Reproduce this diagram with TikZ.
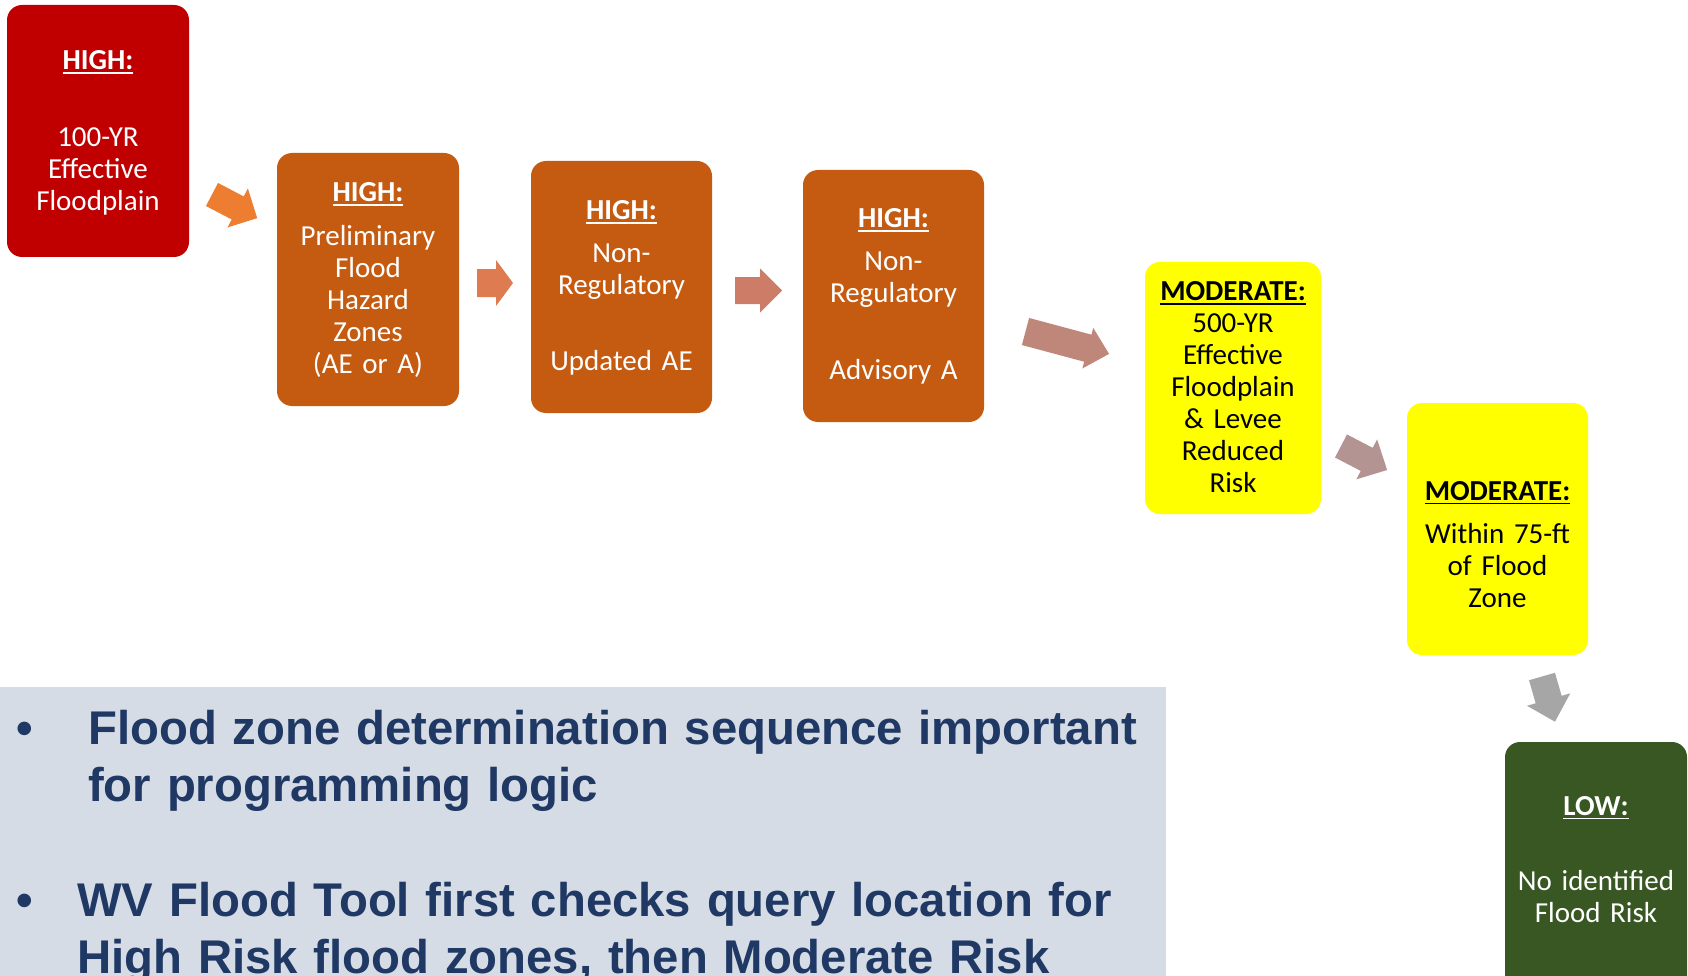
\documentclass[tikz,border=0pt]{standalone}
\usepackage{fontspec}
\setmainfont{Carlito}
\newfontfamily\panelfont{Liberation Sans}
\definecolor{redbox}{HTML}{C00000}
\definecolor{orangebox}{HTML}{C55A11}
\definecolor{yellowbox}{HTML}{FFFF00}
\definecolor{greenbox}{HTML}{385723}
\definecolor{panelbg}{HTML}{D6DCE5}
\definecolor{navy}{HTML}{1F3864}
\definecolor{arA}{HTML}{ED7D31}
\definecolor{arB}{HTML}{DF7B51}
\definecolor{arC}{HTML}{CD7C67}
\definecolor{arD}{HTML}{BF877A}
\definecolor{arE}{HTML}{B39493}
\definecolor{arF}{HTML}{A6A6A6}
\newcommand\hd[1]{\setbox0\hbox{\textbf{#1}}\rlap{\rule[-4.4pt]{\wd0}{1.9pt}}\box0}
% color, tail x, tail y, angle, length, shaft, head width, head length
\newcommand\blockarrow[8]{%
  \fill[#1, shift={(#2,#3)}, rotate=#4] (0,-#6/2) -- ({#5-#8},-#6/2) -- ({#5-#8},-#7/2)
    -- (#5,0) -- ({#5-#8},#7/2) -- ({#5-#8},#6/2) -- (0,#6/2) -- cycle;}
\begin{document}
\begin{tikzpicture}[x=1pt,y=-1pt,
  box/.style={draw=none, inner sep=0pt, rounded corners=15pt, minimum height=252pt},
  txt/.style={text width=210pt, align=center, inner sep=0pt, anchor=base, text=white,
    font=\fontsize{29}{32}\selectfont},
  ptxt/.style={text width=1120pt, align=left, inner sep=0pt, anchor=base west, text=navy,
    font=\panelfont\bfseries\fontsize{47.3}{57}\selectfont},
  bul/.style={inner sep=0pt, anchor=base, text=navy, font=\panelfont\bfseries\fontsize{47.3}{57}\selectfont}]
\useasboundingbox (0,0) rectangle (1688,976);
\clip (0,0) rectangle (1688,976);
\fill[white] (0,0) rectangle (1688,976);

% boxes
\node[box, fill=redbox, minimum width=182pt] (r1) at (98,131) {};
\node[box, fill=orangebox, minimum width=182pt, minimum height=253pt] (r2) at (368,279.5) {};
\node[box, fill=orangebox, minimum width=181pt] (r3) at (621.5,287) {};
\node[box, fill=orangebox, minimum width=181pt] (r4) at (893.5,296) {};
\node[box, fill=yellowbox, minimum width=176pt] (r5) at (1233,388) {};
\node[box, fill=yellowbox, minimum width=181pt] (r6) at (1497.5,529) {};
\node[box, fill=greenbox, minimum width=182pt] (r7) at (1596,868) {};

% texts
\node[txt] (t1) at (98,70) {\hd{HIGH:}\\[45pt]100-YR\\Effective\\Floodplain};
\node[txt] (t2) at (368,202) {\hd{HIGH:}\\[12pt]Preliminary\\Flood\\Hazard\\Zones\\(AE or A)};
\node[txt] (t3) at (621.5,220) {\hd{HIGH:}\\[10.7pt]Non-\\Regulatory\\[44.3pt]Updated AE};
\node[txt] (t4) at (893.5,228) {\hd{HIGH:}\\[10.7pt]Non-\\Regulatory\\[45.3pt]Advisory A};
\node[txt, text=black] (t5) at (1233,300.5) {\hd{MODERATE:}\\500-YR\\Effective\\Floodplain\\\& Levee\\Reduced\\Risk};
\node[txt, text=black] (t6) at (1497.5,500) {\hd{MODERATE:}\\[11.3pt]Within 75-ft\\of Flood\\Zone};
\node[txt] (t7) at (1596,815) {\hd{LOW:}\\[43.7pt]No identified\\Flood Risk};

% block arrows
\blockarrow{arA}{212}{194.5}{-27.6}{51}{26}{44}{22}
\blockarrow{arB}{477}{283}{0}{36}{28}{46}{17}
\blockarrow{arC}{735}{290.5}{0}{47}{27}{44}{22}
\blockarrow{arD}{1025.5}{331.5}{-15}{86.5}{28}{42}{22}
\blockarrow{arE}{1341}{446}{-27.5}{52}{26}{45}{23}
\blockarrow{arF}{1542}{676.5}{-74}{47}{27}{45}{23}

% bottom panel
\node[fill=panelbg, inner sep=0pt, minimum width=1166pt, minimum height=300pt, anchor=north west] (panel) at (0,687) {};
\node[bul] (d1) at (25,744) {•};
\node[ptxt] (p1) at (88,744) {Flood zone determination sequence important\\for programming logic};
\node[bul] (d2) at (25,916) {•};
\node[ptxt] (p2) at (77,916) {WV Flood Tool first checks query location for\\High Risk flood zones, then Moderate Risk};
\end{tikzpicture}
\end{document}
